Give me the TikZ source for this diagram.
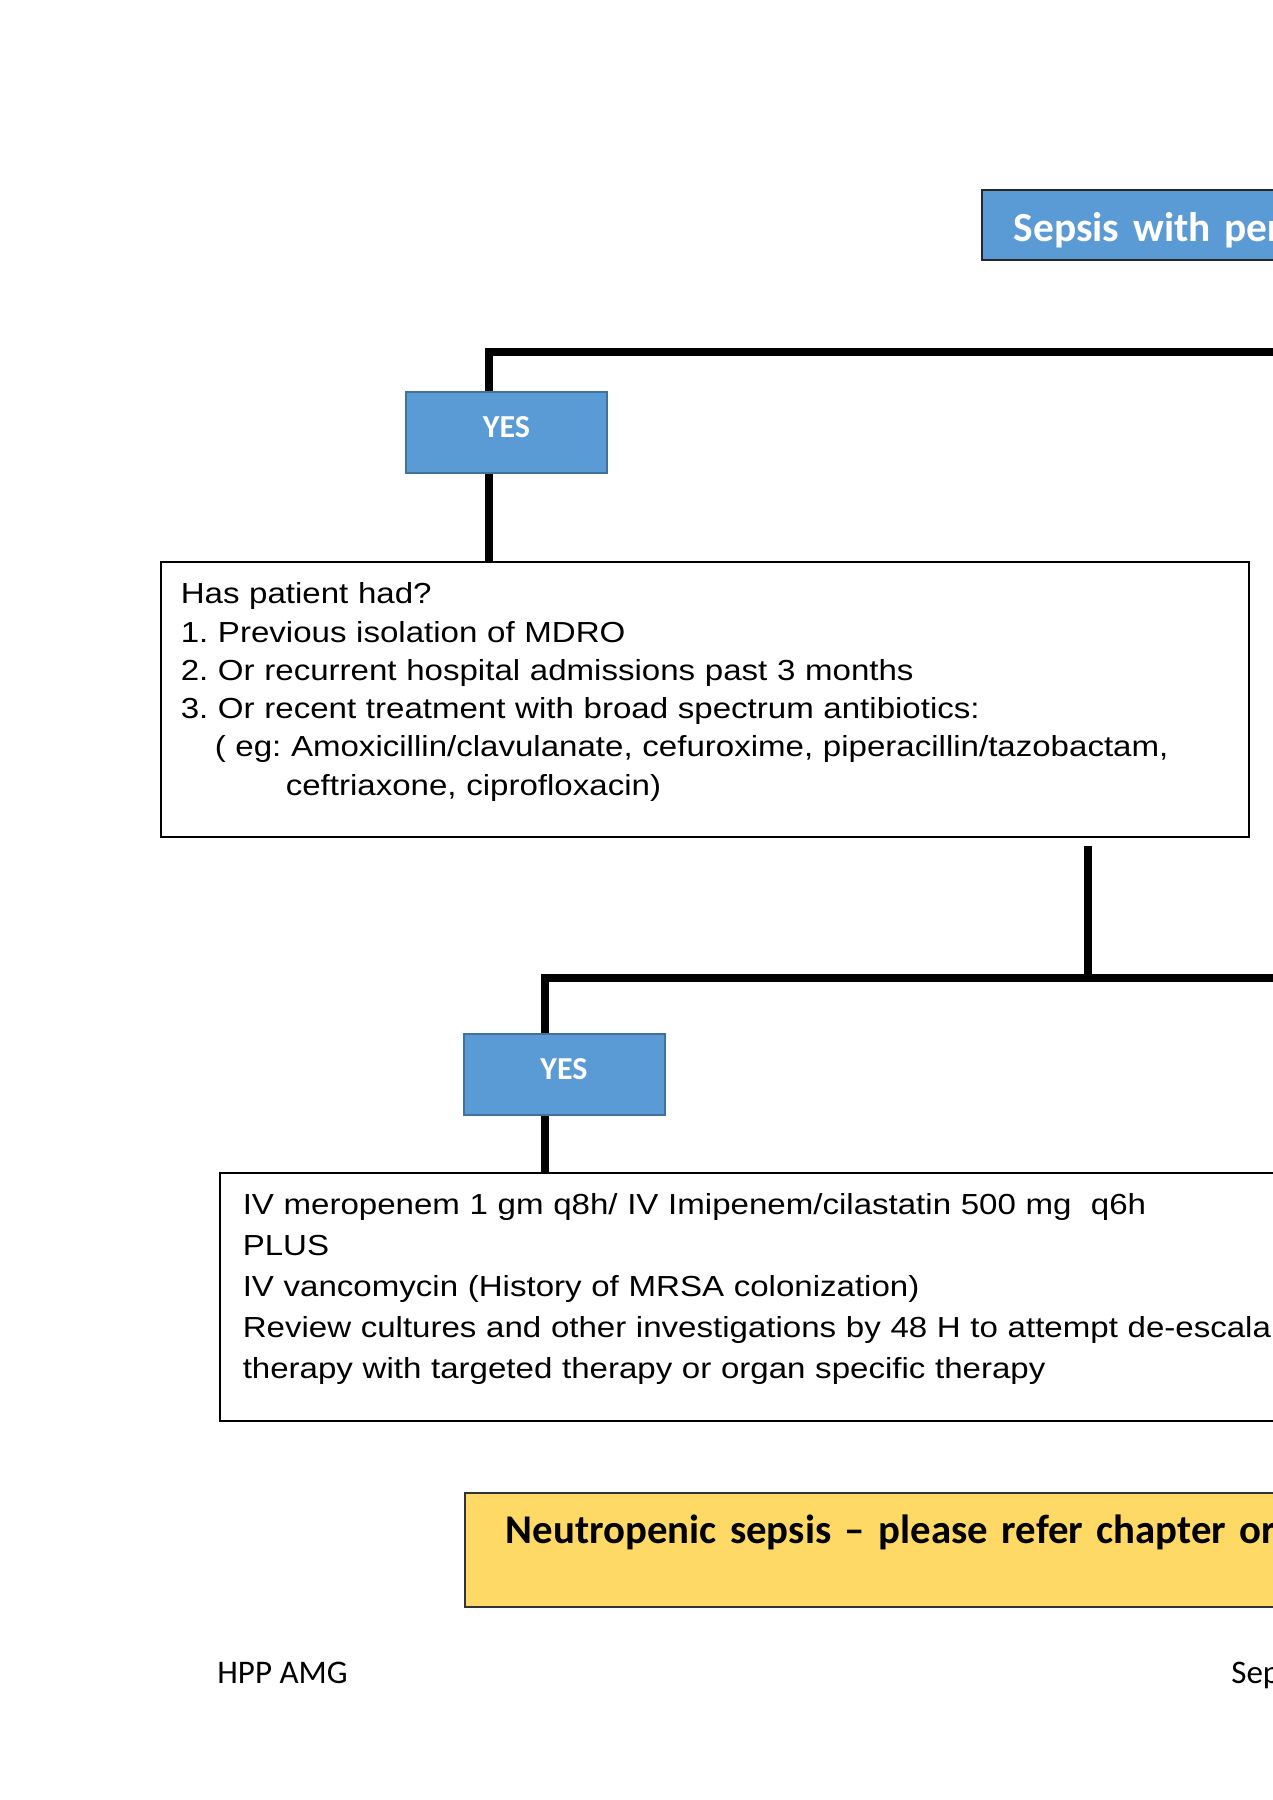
\documentclass[tikz,border=0pt]{standalone}
\usepackage{fontspec}
\setmainfont{Liberation Sans}
\newfontfamily\armfont[FakeStretch=1.14]{Liberation Sans}
\newfontfamily\calfont{Carlito}
\definecolor{boxblue}{HTML}{5B9BD5}
\definecolor{edgeblue}{HTML}{41719C}
\definecolor{noteyellow}{HTML}{FFD966}
\frenchspacing

\begin{document}
\begin{tikzpicture}[x=0.5pt,y=-0.5pt,
    conn/.style={line width=4.25pt},
    yesbox/.style={draw=edgeblue,line width=1pt,fill=boxblue,text=white,
        minimum width=100.5pt,minimum height=40.5pt,inner sep=0pt,
        font=\calfont\bfseries\fontsize{16}{18}\selectfont,text height=5pt,text depth=0pt},
    textbox/.style={draw,line width=0.75pt,anchor=north west,align=left,inner ysep=0pt,
        font=\armfont\fontsize{14.5}{19.15}\selectfont},
    foot/.style={anchor=base west,inner sep=0pt,font=\calfont\fontsize{16.5}{18}\selectfont}]
    \useasboundingbox (0,0) rectangle (1273,1800);
    \clip (0,0) rectangle (1273,1800);
    % boxes
    \node[draw=black!85,line width=0.75pt,fill=boxblue,text=white,anchor=north west,
        text width=300pt,align=left,inner xsep=16pt,inner ysep=0pt,minimum height=35pt,
        text height=17pt,text depth=0pt,font=\calfont\bfseries\fontsize{20.7}{24}\selectfont]
        (title) at (981,189) {Sepsis with per};
    \node[yesbox] (yes1) at (506.5,432) {YES};
    \node[textbox,text width=524pt,inner xsep=10pt,text height=21pt,text depth=116.5pt]
        (q1) at (160,561) {Has patient had?\\
        1. Previous isolation of MDRO\\
        2. Or recurrent hospital admissions past 3 months\\
        3. Or recent treatment with broad spectrum antibiotics:\\
        \hspace*{17pt}( eg: Amoxicillin/clavulanate, cefuroxime, piperacillin/tazobactam,\\
        \hspace*{52.5pt}ceftriaxone, ciprofloxacin)};
    \node[yesbox] (yes2) at (564,1074) {YES};
    \node[textbox,text width=600pt,inner xsep=11.5pt,text height=21pt,text depth=103pt,
        font=\armfont\fontsize{14.5}{20.5}\selectfont]
        (rx) at (219,1172) {IV meropenem 1 gm q8h/ IV Imipenem/cilastatin 500 mg\ \ q6h\\
        PLUS\\
        IV vancomycin (History of MRSA colonization)\\
        Review cultures and other investigations by 48 H to attempt de-escala\\
        therapy with targeted therapy or organ specific therapy};
    \node[draw=black!80,line width=0.75pt,fill=noteyellow,anchor=north west,
        text width=560pt,align=left,inner xsep=20.5pt,inner ysep=0pt,minimum height=57pt,
        text height=0pt,text depth=6pt,font=\calfont\bfseries\fontsize{20.4}{24}\selectfont]
        (neut) at (464,1492) {Neutropenic sepsis – please refer chapter or};
    \node[foot] (hpp) at (217,1683) {HPP AMG};
    \node[foot] (date) at (1231,1683) {Sep};
    % connectors
    \coordinate (j1) at (489,352);
    \coordinate (r1) at (1300,352);
    \draw[conn] (r1) -- (j1) -- (j1 |- yes1.north);
    \draw[conn] (j1 |- yes1.south) -- (j1 |- q1.north);
    \coordinate (j2) at (545,978);
    \coordinate (j3) at (1088,978);
    \coordinate (r2) at (1300,978);
    \draw[conn] (r2) -- (j2) -- (j2 |- yes2.north);
    \draw[conn] (j2 |- yes2.south) -- (j2 |- rx.north);
    \draw[conn,shorten <=4pt] (j3 |- q1.south) -- (j3);
\end{tikzpicture}
\end{document}
